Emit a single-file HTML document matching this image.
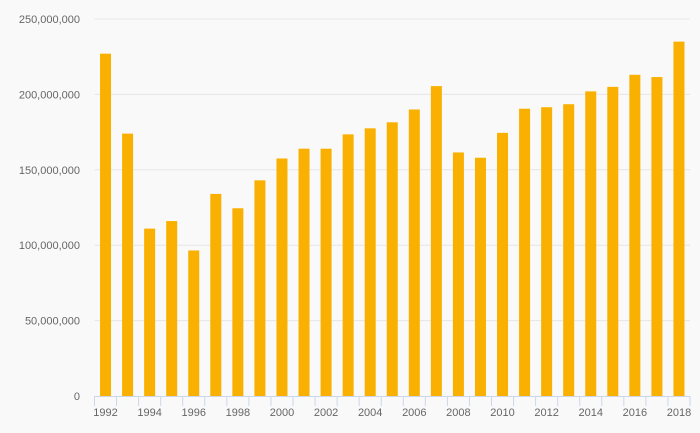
<!DOCTYPE html>
<html><head><meta charset="utf-8">
<style>
html,body{margin:0;padding:0;background:#f9f9f9;}
svg{display:block;font-family:"Liberation Sans",sans-serif;}
</style></head>
<body>
<svg id="chart" width="700" height="433"></svg>
<script>
const years = [1992,1993,1994,1995,1996,1997,1998,1999,2000,2001,2002,2003,2004,2005,2006,2007,2008,2009,2010,2011,2012,2013,2014,2015,2016,2017,2018];
const values = [227,174,111,116,96.5,134,124.5,143,157.5,164,164,173.5,177.5,181.5,190,205.5,161.5,158,174.5,190.5,191.5,193.5,202,205,213,211.5,235];
const yTicks = [0,50,100,150,200,250];
const yTickLabels = ["0","50,000,000","100,000,000","150,000,000","200,000,000","250,000,000"];

const NS="http://www.w3.org/2000/svg";
const svgEl=document.getElementById('chart');
const plotLeft=94.5,plotRight=690,plotTop=19,plotBottom=396,yMax=250;
const catW=(plotRight-plotLeft)/years.length;
const yS=v=>plotBottom-(v/yMax)*(plotBottom-plotTop);
const xS=i=>plotLeft+i*catW;
function mk(t,a){const e=document.createElementNS(NS,t);for(const k in a)e.setAttribute(k,a[k]);svgEl.appendChild(e);return e;}

yTicks.forEach((t,i)=>{
  if(t>0){const g=mk('line',{x1:plotLeft,x2:plotRight,y1:yS(t),y2:yS(t),stroke:'#e6e6e6','stroke-width':1});
  
  }
  const l=mk('text',{x:80,y:yS(t)+4,'text-anchor':'end','font-size':11,fill:'#666'});
  l.textContent=yTickLabels[i];
  
  
});

values.forEach((v,i)=>{
  const b=mk('rect',{x:xS(i)+catW/2-5.5,y:yS(v),width:11,height:plotBottom-yS(v),fill:'#f9b000'});
  
  
});

const ax=mk('line',{x1:plotLeft,x2:plotRight,y1:plotBottom+0.5,y2:plotBottom+0.5,stroke:'#ccd6eb','stroke-width':1});


for(let i=0;i<=years.length;i++){
  const t=mk('line',{x1:xS(i),x2:xS(i),y1:plotBottom,y2:plotBottom+10,stroke:'#ccd6eb','stroke-width':1});
  
  
}
years.forEach((yr,i)=>{
  if(i%2!==0)return;
  const l=mk('text',{x:xS(i)+catW/2,y:416,'text-anchor':'middle','font-size':11,fill:'#666'});
  l.textContent=yr;
  
  
});
</script>
</body></html>
